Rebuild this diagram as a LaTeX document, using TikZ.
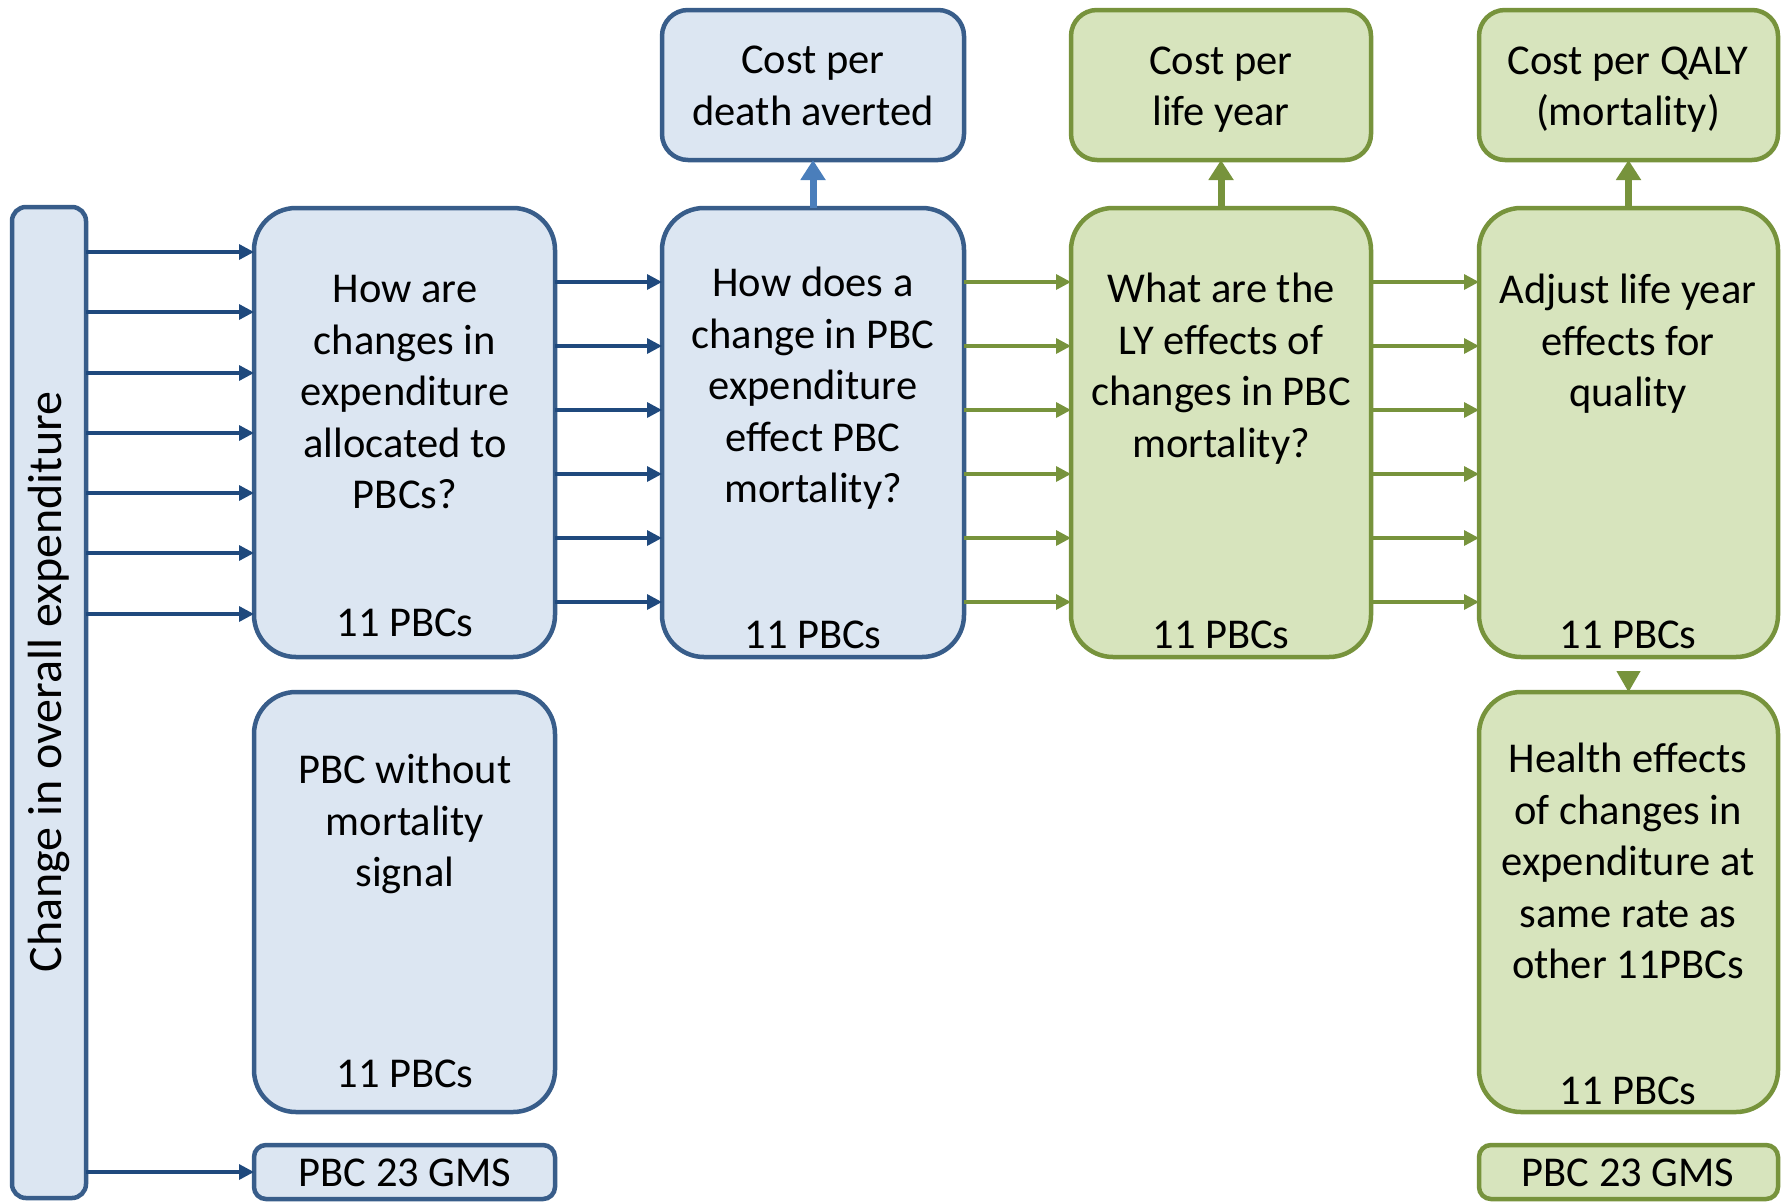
\documentclass[tikz,border=0pt]{standalone}
\usepackage{fontspec}
\setmainfont{Carlito}
\usetikzlibrary{arrows.meta,calc}
\definecolor{bfill}{HTML}{DCE6F2}
\definecolor{bdraw}{HTML}{385D8A}
\definecolor{barrow}{HTML}{1F497D}
\definecolor{blight}{HTML}{4A7EBB}
\definecolor{gfill}{HTML}{D7E4BD}
\definecolor{gdraw}{HTML}{77933C}
\tikzset{
  boxbase/.style={draw, line width=4.5pt, inner sep=0pt, outer sep=0pt, anchor=north west},
  bluebox/.style={boxbase, draw=bdraw, fill=bfill},
  greenbox/.style={boxbase, draw=gdraw, fill=gfill},
  txt/.style={font=\fontsize{42.5}{51.5}\selectfont, align=center, inner sep=0pt},
  barr/.style={draw=barrow, line width=3.3pt, -{Triangle[length=15pt,width=15pt]}},
  garr/.style={draw=gdraw, line width=3.3pt, -{Triangle[length=15pt,width=15pt]}},
  uparr/.style={line width=7pt, -{Triangle[length=20pt,width=24pt]}},
}
\begin{document}
\begin{tikzpicture}[x=1pt,y=1pt]
\useasboundingbox (0,0) rectangle (1782,-1202);
% boxes
\node[bluebox, rounded corners=14pt, minimum width=74pt, minimum height=991pt] (L) at (12,-207) {};
\node[bluebox, rounded corners=42pt, minimum width=301pt, minimum height=449pt] (A) at (254,-208) {};
\node[bluebox, rounded corners=42pt, minimum width=302pt, minimum height=449pt] (B) at (662,-208) {};
\node[greenbox, rounded corners=42pt, minimum width=300pt, minimum height=449pt] (C) at (1071,-208) {};
\node[greenbox, rounded corners=42pt, minimum width=299pt, minimum height=449pt] (D) at (1479,-208) {};
\node[bluebox, rounded corners=26pt, minimum width=302pt, minimum height=150pt] (TB) at (662,-10) {};
\node[greenbox, rounded corners=26pt, minimum width=300pt, minimum height=150pt] (TC) at (1071,-10) {};
\node[greenbox, rounded corners=26pt, minimum width=299pt, minimum height=150pt] (TD) at (1479,-10) {};
\node[bluebox, rounded corners=42pt, minimum width=301pt, minimum height=420pt] (E) at (254,-692) {};
\node[greenbox, rounded corners=42pt, minimum width=299pt, minimum height=420pt] (F) at (1479,-692) {};
\node[bluebox, rounded corners=12pt, minimum width=301pt, minimum height=54pt] (G1) at (254,-1145) {};
\node[greenbox, rounded corners=12pt, minimum width=299pt, minimum height=54pt] (G2) at (1479,-1145) {};
% texts
\node[txt, rotate=90, font=\fontsize{48}{58}\selectfont] (tL) at (49,-682) {Change in overall expenditure};
\node[txt] (tA) at (405,-392.5) {How are\\changes in\\expenditure\\allocated to\\PBCs?};
\node[txt] (nA) at (405,-623) {11 PBCs};
\node[txt] (tB) at (813,-388.5) {How does a\\change in PBC\\expenditure\\effect PBC\\mortality?};
\node[txt] (nB) at (813,-635) {11 PBCs};
\node[txt] (tC) at (1221,-368.5) {What are the\\LY effects of\\changes in PBC\\mortality?};
\node[txt] (nC) at (1221,-635) {11 PBCs};
\node[txt] (tD) at (1628,-344) {Adjust life year\\effects for\\quality};
\node[txt] (nD) at (1628,-635) {11 PBCs};
\node[txt] (tTB) at (813,-86) {Cost per\\death averted};
\node[txt] (tTC) at (1221,-89.5) {Cost per\\life year};
\node[txt] (tTD) at (1628,-89.5) {Cost per QALY\\(mortality)};
\node[txt] (tE) at (405,-824) {PBC without\\mortality\\signal};
\node[txt] (nE) at (405,-1074) {11 PBCs};
\node[txt] (tF) at (1628,-861) {Health effects\\of changes in\\expenditure at\\same rate as\\other 11PBCs};
\node[txt] (nF) at (1628,-1091) {11 PBCs};
\node[txt] (tG1) at (405,-1173) {PBC 23 GMS};
\node[txt] (tG2) at (1628,-1173) {PBC 23 GMS};
% connectors
\foreach \y in {252,312,373,433,493,553,614}
  \draw[barr] (L.east |- 0,-\y) -- (A.west |- 0,-\y);
\draw[barr] (L.east |- G1.west) -- (G1.west);
\foreach \y in {282,346,410,474,538,602} {
  \draw[barr] (A.east |- 0,-\y) -- (B.west |- 0,-\y);
  \draw[garr] (B.east |- 0,-\y) -- (C.west |- 0,-\y);
  \draw[garr] (C.east |- 0,-\y) -- (D.west |- 0,-\y);
}
\draw[uparr, draw=blight] (B.north) -- (TB.south);
\draw[uparr, draw=gdraw] (C.north) -- (TC.south);
\draw[uparr, draw=gdraw] (D.north) -- (TD.south);
\draw[draw=gdraw, line width=1pt, shorten <=14pt, -{Triangle[length=21pt,width=24pt]}] (D.south) -- (F.north);
\end{tikzpicture}
\end{document}
